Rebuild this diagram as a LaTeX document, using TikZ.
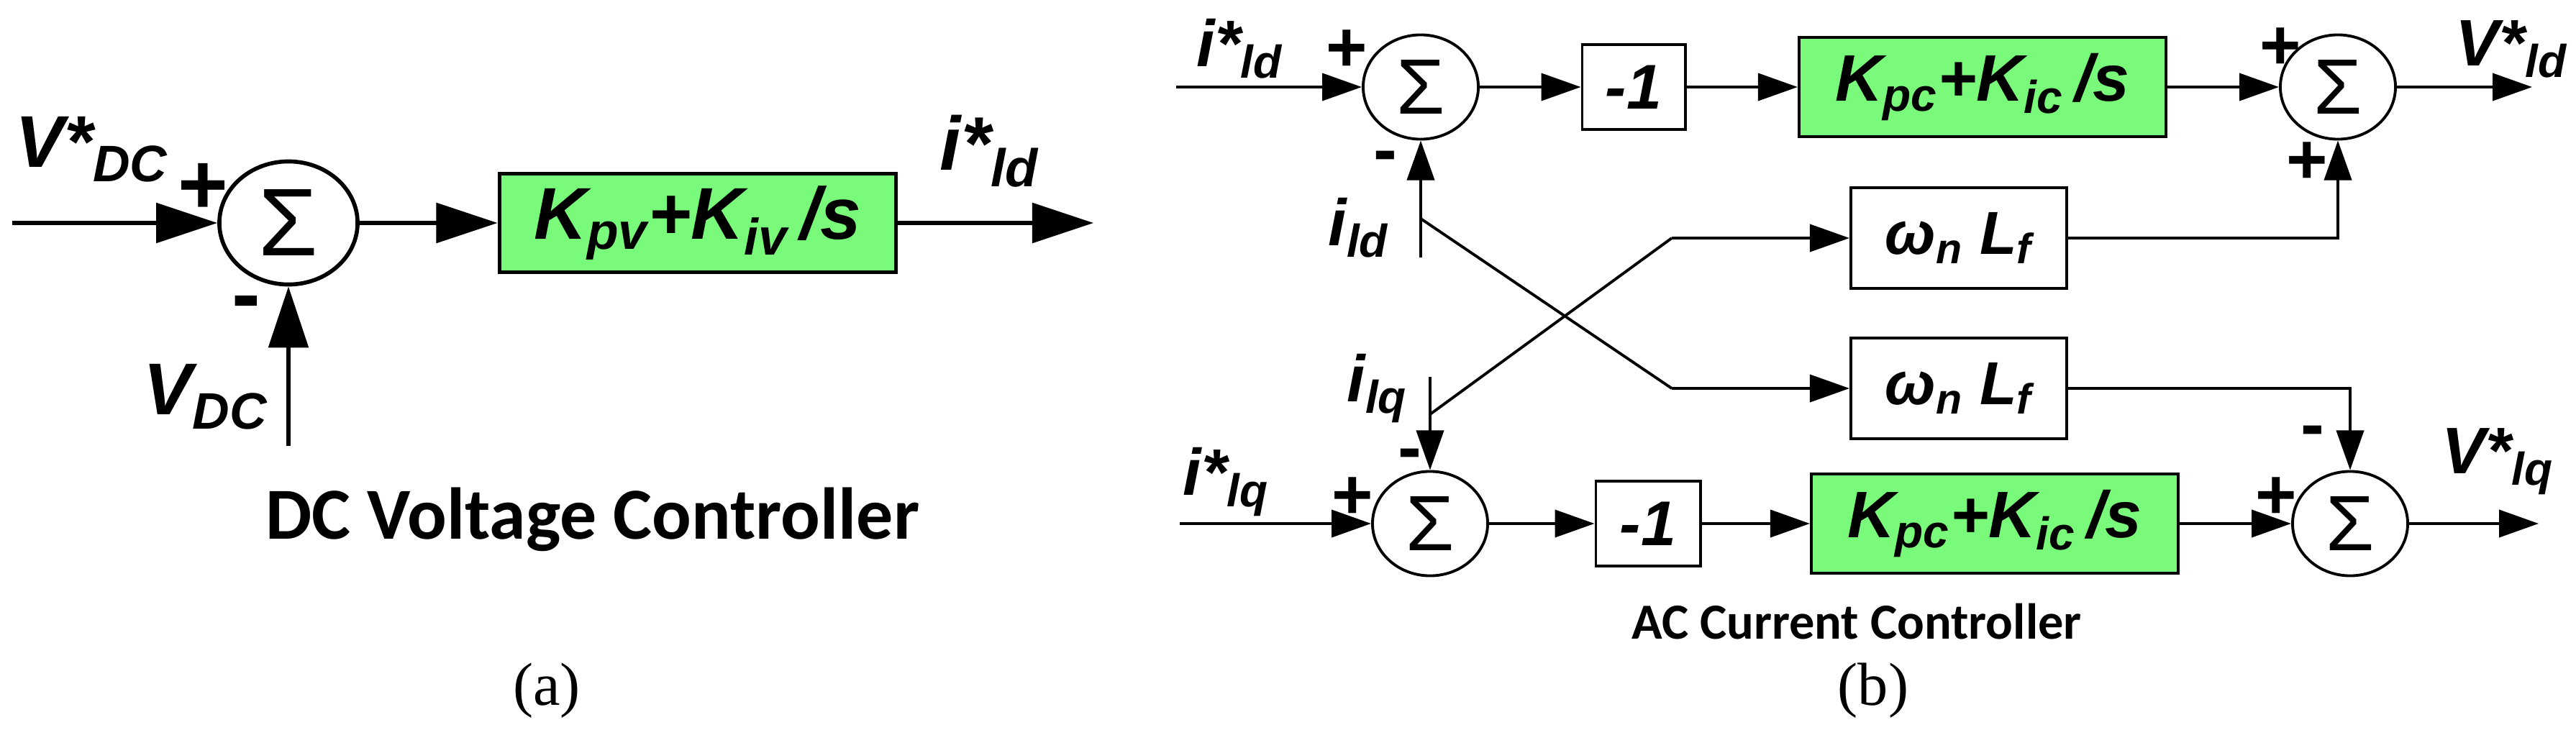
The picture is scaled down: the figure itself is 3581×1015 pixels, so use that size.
\documentclass[tikz,border=0pt]{standalone}
\usepackage{fontspec}
\setmainfont{Liberation Sans}
\newfontfamily\capfont{Carlito}
\newfontfamily\tagfont{Liberation Serif}
\usetikzlibrary{arrows.meta,shapes.geometric}
\definecolor{pigreen}{RGB}{122,250,122}
\newcommand{\fsz}[1]{\fontsize{#1}{#1}\selectfont}

\begin{document}
\begin{tikzpicture}[x=0.01cm,y=-0.01cm,
  sumA/.style={draw,ellipse,line width=1.6pt,minimum width=1.92cm,minimum height=1.71cm,inner sep=0pt,font=\fsz{38}},
  sumB/.style={draw,ellipse,line width=1.1pt,minimum width=1.6cm,minimum height=1.45cm,inner sep=0pt,font=\fsz{31}},
  piA/.style={draw,line width=1.6pt,fill=pigreen,minimum width=5.51cm,minimum height=1.37cm,font=\fsz{29}\bfseries\itshape},
  piB/.style={draw,line width=1.1pt,fill=pigreen,minimum width=5.1cm,minimum height=1.38cm,font=\fsz{26}\bfseries\itshape},
  blk/.style={draw,line width=1.1pt,minimum width=#1,minimum height=1.18cm,font=\fsz{25}\bfseries\itshape},
  sig/.style={font=\fsz{#1}\bfseries\itshape,anchor=west,inner sep=0pt},
  pm/.style={font=\fsz{#1}\bfseries},
  arrA/.style={line width=1.6pt,-{Triangle[length=0.85cm,width=0.55cm]}},
  arrB/.style={line width=1.1pt,-{Triangle[length=0.55cm,width=0.38cm]}},
  wire/.style={line width=1.1pt}]
\useasboundingbox (0,0) rectangle (3581,1015);

% (a) DC voltage controller
\node[sumA] (sa) at (401,310) {Σ};
\node[piA] (pa) at (970,310) {K\textsubscript{pv}+K\textsubscript{iv}\,/s};
\coordinate (vdcin) at (17,310);
\coordinate (vdcfb) at (401,620);
\coordinate (ildout) at (1520,310);
\draw[arrA] (vdcin) -- (sa);
\draw[arrA] (sa) -- (pa);
\draw[arrA] (pa) -- (ildout);
\draw[arrA] (vdcfb) -- (sa);
\node[sig=29] (vref) at (21,208) {V*\textsubscript{DC}};
\node[sig=29] (vdc) at (199,552) {V\textsubscript{DC}};
\node[sig=30] (iref) at (1306,210) {i*\textsubscript{ld}};
\node[pm=34] (pa1) at (282,262) {+};
\node[pm=34] (ma1) at (342,430) {-};
\node[font=\capfont\fsz{29}\bfseries] (capa) at (824,722) {DC Voltage Controller};
\node[font=\tagfont\fsz{24}] (taga) at (760,960) {(a)};

% (b) AC current controller
\node[sumB] (sb1) at (1975,121) {Σ};
\node[blk=1.43cm] (nb1) at (2271,121) {-1};
\node[piB] (pb1) at (2756,121) {K\textsubscript{pc}+K\textsubscript{ic}\,/s};
\node[sumB] (sb2) at (3250,121) {Σ};
\node[blk=3cm,minimum height=1.4cm,font=\fsz{24}\bfseries\itshape] (wl1) at (2723,331) {ω\textsubscript{n} L\textsubscript{f}};
\node[blk=3cm,minimum height=1.4cm,font=\fsz{24}\bfseries\itshape] (wl2) at (2723,540) {ω\textsubscript{n} L\textsubscript{f}};
\node[sumB] (sb3) at (1988,728) {Σ};
\node[blk=1.45cm] (nb2) at (2291,728) {-1};
\node[piB] (pb2) at (2773,728) {K\textsubscript{pc}+K\textsubscript{ic}\,/s};
\node[sumB] (sb4) at (3267,728) {Σ};

\coordinate (idin) at (1635,121);
\coordinate (vdout) at (3520,121);
\coordinate (iqin) at (1640,728);
\coordinate (vqout) at (3529,728);
\coordinate (idfb) at (1975,358);
\coordinate (idtap) at (1975,304);
\coordinate (idbend) at (2324,540);
\coordinate (iqfb) at (1988,524);
\coordinate (iqtap) at (1988,576);
\coordinate (iqbend) at (2324,331);

\draw[arrB] (idin) -- (sb1);
\draw[arrB] (sb1) -- (nb1);
\draw[arrB] (nb1) -- (pb1);
\draw[arrB] (pb1) -- (sb2);
\draw[arrB] (sb2) -- (vdout);
\draw[arrB] (iqin) -- (sb3);
\draw[arrB] (sb3) -- (nb2);
\draw[arrB] (nb2) -- (pb2);
\draw[arrB] (pb2) -- (sb4);
\draw[arrB] (sb4) -- (vqout);
\draw[arrB] (idfb) -- (sb1.south);
\draw[arrB] (iqfb) -- (sb3.north);
\draw[wire] (idtap) -- (idbend);
\draw[arrB] (idbend) -- (wl2);
\draw[wire] (iqtap) -- (iqbend);
\draw[arrB] (iqbend) -- (wl1);
\draw[arrB] (wl1.east) -| (sb2.south);
\draw[arrB] (wl2.east) -| (sb4.north);

\node[sig=26] (idref) at (1663,68) {i*\textsubscript{ld}};
\node[sig=26] (vdref) at (3413,68) {V*\textsubscript{ld}};
\node[sig=26] (idmeas) at (1846,317) {i\textsubscript{ld}};
\node[sig=26] (iqmeas) at (1872,540) {i\textsubscript{lq}};
\node[sig=26] (iqref) at (1644,670) {i*\textsubscript{lq}};
\node[sig=26] (vqref) at (3394,642) {V*\textsubscript{lq}};
\node[pm=28] (pb1a) at (1872,71) {+};
\node[pm=28] (mb1) at (1926,226) {-};
\node[pm=28] (pb2a) at (3170,68) {+};
\node[pm=28] (pb2b) at (3207,227) {+};
\node[pm=28] (pb3) at (1880,693) {+};
\node[pm=28] (mb3) at (1960,640) {-};
\node[pm=28] (mb4) at (3215,608) {-};
\node[pm=28] (pb4) at (3164,693) {+};
\node[font=\capfont\fsz{20}\bfseries] (capb) at (2581,864) {AC Current Controller};
\node[font=\tagfont\fsz{24}] (tagb) at (2604,960) {(b)};
\end{tikzpicture}
\end{document}
